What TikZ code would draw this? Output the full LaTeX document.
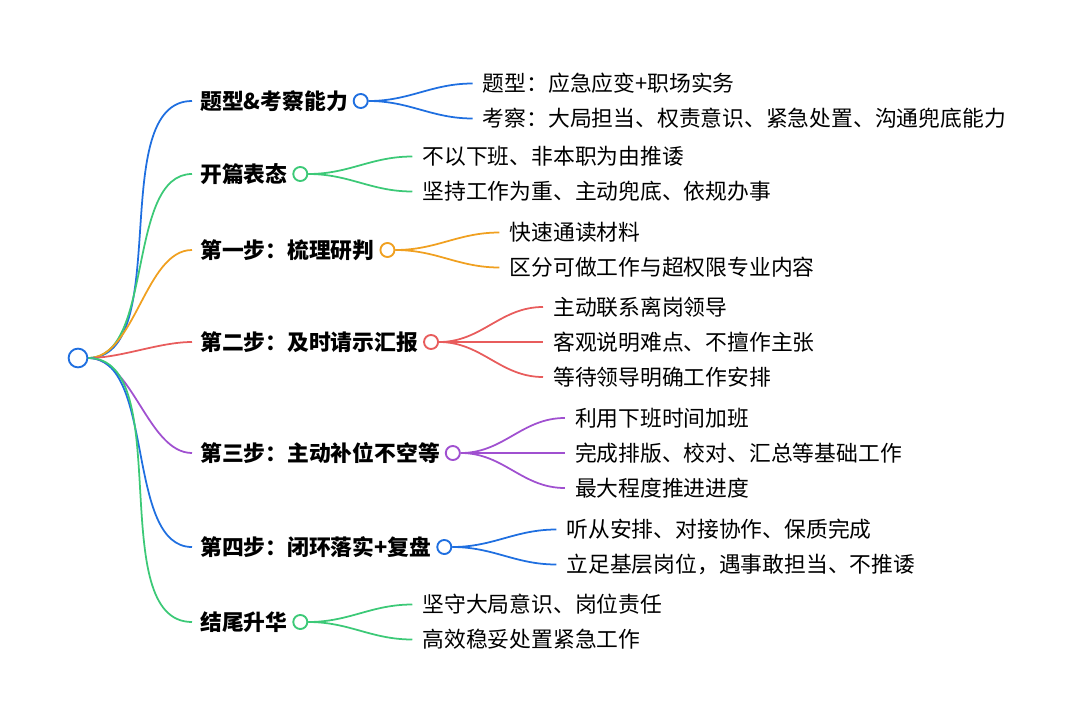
\documentclass[tikz,border=0pt]{standalone}
\usepackage{fontspec}
\setmainfont{Noto Sans CJK SC}
\usetikzlibrary{positioning, calc}
\definecolor{mblue}{HTML}{1F6FE0}
\definecolor{mgreen}{HTML}{3CC977}
\definecolor{morange}{HTML}{F0A020}
\definecolor{mred}{HTML}{E85C5C}
\definecolor{mpurple}{HTML}{A050D0}
\tikzset{
  branch/.style={anchor=west, inner sep=0pt, font=\fontsize{18.6}{22}\selectfont\bfseries},
  leaf/.style={anchor=west, inner sep=0pt, font=\fontsize{18.6}{22}\selectfont},
  knob/.style={circle, draw=#1, fill=white, line width=1.6pt, minimum size=12pt, inner sep=0pt},
  link/.style={draw=#1, line width=1.5pt}
}
\begin{document}
\begin{tikzpicture}[x=0.03cm, y=-0.03cm]
  \useasboundingbox (0,0) rectangle (1080,719);
  % Root
  \node (root) [knob=mblue, minimum size=16pt] at (78,358) {};
  % Branches
  \foreach \i/\y/\c/\t/\n/\kids in {
      1/101/mblue/{题型\&考察能力}/2/{题型：应急应变+职场实务,考察：大局担当、权责意识、紧急处置、沟通兜底能力},
      2/174/mgreen/{开篇表态}/2/{不以下班、非本职为由推诿,坚持工作为重、主动兜底、依规办事},
      3/250/morange/{第一步：梳理研判}/2/{快速通读材料,区分可做工作与超权限专业内容},
      4/342/mred/{第二步：及时请示汇报}/3/{主动联系离岗领导,客观说明难点、不擅作主张,等待领导明确工作安排},
      5/453/mpurple/{第三步：主动补位不空等}/3/{利用下班时间加班,完成排版、校对、汇总等基础工作,最大程度推进进度},
      6/547/mblue/{第四步：闭环落实+复盘}/2/{听从安排、对接协作、保质完成,立足基层岗位，遇事敢担当、不推诿},
      7/622/mgreen/{结尾升华}/2/{坚守大局意识、岗位责任,高效稳妥处置紧急工作}} {
    \node (b\i) [branch] at (200,\y) {\t};
    \node (o\i) [knob=\c, right=4pt of b\i] {};
    \draw [link=\c] (root.east) to [out=0, in=180, looseness=0.8] ($(b\i.west)+(-8,0)$);
    \foreach \k [count=\j] in \kids {
      \node (c\i-\j) [leaf] at ($(o\i.east)+(114,{(\j-(\n+1)/2)*35})$) {\k};
      \draw [link=\c] (o\i.east) to [out=0, in=180] ($(c\i-\j.west)+(-10,0)$);
    }
  }
\end{tikzpicture}
\end{document}
